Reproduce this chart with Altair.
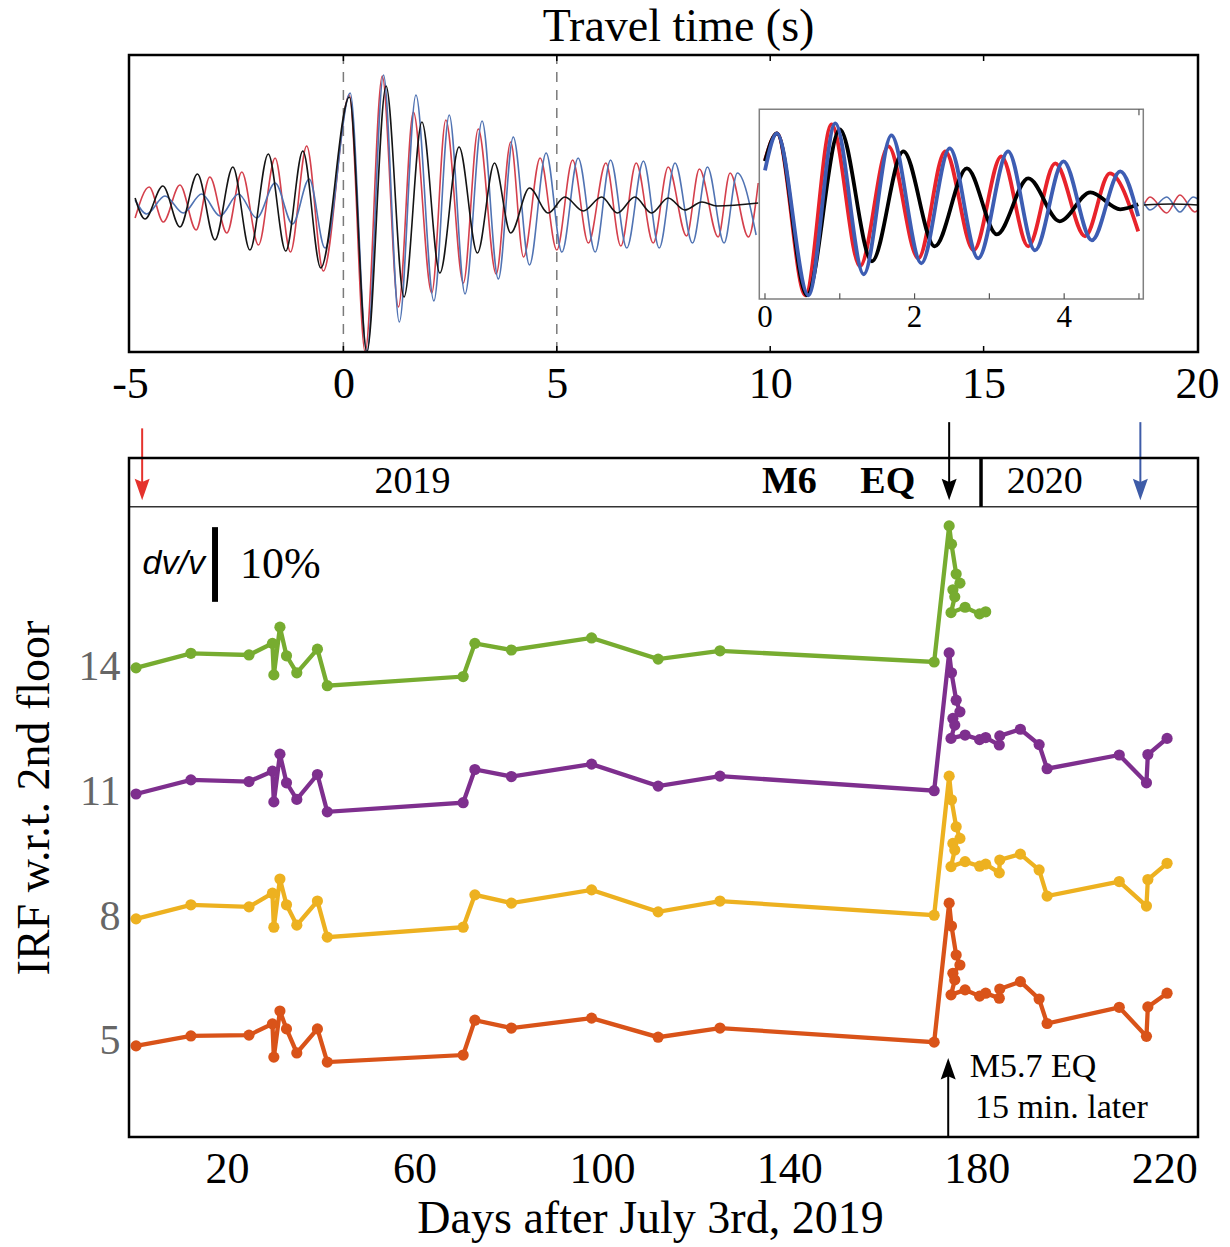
import altair as alt
import pandas as pd

SERIF = "Liberation Serif"
SANS = "Liberation Sans"

# ---------------- waveforms: extrema of each trace (time s, rel. amplitude) ----------------
RED_T = [-4.88, -4.55, -4.22, -3.83, -3.45, -3.13, -2.73, -2.38, -1.99, -1.60,
         -1.24, -0.86, -0.47, 0.14, 0.51, 0.91, 1.29, 1.64, 2.07, 2.40,
         2.81, 3.16, 3.58, 3.92, 4.22, 4.61, 5.00, 5.37, 5.74, 6.15,
         6.50, 6.86, 7.26, 7.61, 8.04, 8.34, 8.78, 9.06, 9.49, 9.72]
RED_A = [-0.13, 0.18, -0.17, 0.20, -0.25, 0.28, -0.28, 0.33, -0.40, 0.47,
         -0.47, 0.59, -0.66, 1.10, -1.65, 1.29, -1.02, 0.93, -0.88, 0.85,
         -0.78, 0.76, -0.69, 0.63, -0.52, 0.47, -0.45, 0.45, -0.38, 0.42,
         -0.41, 0.42, -0.38, 0.38, -0.31, 0.36, -0.32, 0.32, -0.32, 0.22]
BLUE_T = [-4.88, -4.61, -4.18, -3.75, -3.32, -2.89, -2.46, -2.03, -1.60, -1.19,
          -0.80, -0.43, 0.16, 0.55, 0.94, 1.31, 1.70, 2.12, 2.48, 2.85,
          3.25, 3.63, 3.98, 4.36, 4.75, 5.12, 5.50, 5.90, 6.26, 6.64,
          7.03, 7.40, 7.77, 8.18, 8.53, 8.92, 9.23, 9.67]
BLUE_A = [0.05, -0.09, 0.09, -0.08, 0.11, -0.11, 0.11, -0.13, 0.22, -0.19,
          0.26, -0.43, 1.12, -1.65, 1.30, -1.17, 1.10, -0.96, 0.90, -0.89,
          0.84, -0.74, 0.68, -0.60, 0.52, -0.47, 0.47, -0.47, 0.45, -0.43,
          0.44, -0.43, 0.42, -0.38, 0.38, -0.38, 0.32, -0.30]
BLACK_T = [-4.88, -4.65, -4.23, -3.83, -3.42, -3.01, -2.59, -2.19, -1.76, -1.35,
           -0.95, -0.53, 0.14, 0.55, 1.00, 1.42, 1.84, 2.26, 2.71, 3.14,
           3.54, 3.92, 4.36, 4.80, 5.19, 5.62, 6.05, 6.42, 6.83, 7.22,
           7.61, 8.00, 8.40, 8.75, 9.72]
BLACK_A = [0.07, -0.14, 0.19, -0.22, 0.31, -0.35, 0.38, -0.45, 0.51, -0.46,
           0.54, -0.63, 1.08, -1.67, 1.19, -0.92, 0.83, -0.68, 0.58, -0.48,
           0.42, -0.28, 0.17, -0.08, 0.08, -0.06, 0.08, -0.08, 0.08, -0.08,
           0.07, -0.05, 0.03, -0.01, 0.02]
# tails to the right of the inset
RED_TAIL_T = [18.75, 18.90, 19.29, 19.60, 19.95, 20.02]
RED_TAIL_A = [0.00, 0.08, -0.08, 0.10, -0.07, -0.05]
BLUE_TAIL_T = [18.75, 18.90, 19.29, 19.60, 19.91, 20.02]
BLUE_TAIL_A = [0.03, -0.05, 0.08, -0.07, 0.08, 0.06]
BLACK_TAIL_T = [18.75, 19.40, 20.02]
BLACK_TAIL_A = [0.00, 0.01, 0.00]

# inset: first 5 s, zoomed
IN_RED_T = [0.0, 0.16, 0.54, 0.89, 1.27, 1.65, 2.05, 2.41, 2.79, 3.16, 3.52, 3.88, 4.28, 4.61, 4.99]
IN_RED_A = [0.43, 0.70, -0.92, 0.79, -0.63, 0.57, -0.55, 0.52, -0.47, 0.47, -0.43, 0.40, -0.33, 0.30, -0.28]
IN_BLUE_T = [0.0, 0.16, 0.58, 0.94, 1.32, 1.69, 2.09, 2.47, 2.85, 3.25, 3.61, 3.99, 4.37, 4.75, 4.99]
IN_BLUE_A = [0.33, 0.70, -0.92, 0.80, -0.71, 0.68, -0.60, 0.55, -0.55, 0.52, -0.47, 0.42, -0.37, 0.32, -0.13]
IN_BLACK_T = [0.0, 0.16, 0.56, 1.00, 1.43, 1.85, 2.27, 2.70, 3.10, 3.52, 3.94, 4.35, 4.75, 4.99]
IN_BLACK_A = [0.42, 0.70, -0.92, 0.74, -0.58, 0.52, -0.43, 0.35, -0.31, 0.25, -0.18, 0.11, -0.06, -0.01]

# ---------------- dv/v time series (days after July 3rd, 2019) ----------------
DAYS = [0.6, 12.3, 24.7, 29.7, 30.0, 31.3, 32.7, 34.9, 39.3, 41.4,
        70.4, 72.9, 80.7, 97.8, 112.0, 125.2, 170.9, 174.1, 174.6, 175.6,
        176.4, 174.9, 175.3, 174.5, 177.5, 180.6, 181.9, 184.8, 184.9, 189.3,
        193.3, 195.0, 210.4, 216.2, 216.5, 220.6]
GREEN = [13.98, 14.33, 14.29, 14.57, 13.81, 14.96, 14.27, 13.86, 14.43, 13.55,
         13.77, 14.57, 14.41, 14.70, 14.19, 14.39, 14.12, 17.40, 16.96, 16.24,
         16.02, 15.86, 15.69, 15.31, 15.44, 15.28, 15.33]
PURPLE = [10.94, 11.28, 11.24, 11.49, 10.75, 11.90, 11.21, 10.81, 11.41, 10.51,
          10.73, 11.53, 11.36, 11.66, 11.13, 11.37, 11.02, 14.34, 13.86, 13.20,
          12.92, 12.76, 12.60, 12.28, 12.36, 12.25, 12.30, 12.12, 12.34, 12.50,
          12.13, 11.55, 11.88, 11.21, 11.89, 12.28]
YELLOW = [7.93, 8.27, 8.22, 8.55, 7.73, 8.89, 8.27, 7.78, 8.36, 7.49,
          7.73, 8.51, 8.31, 8.63, 8.10, 8.36, 8.02, 11.37, 10.80, 10.15,
          9.87, 9.75, 9.59, 9.19, 9.31, 9.20, 9.25, 9.04, 9.35, 9.49,
          9.11, 8.48, 8.83, 8.24, 8.88, 9.27]
ORANGE = [4.87, 5.11, 5.13, 5.40, 4.60, 5.71, 5.28, 4.70, 5.28, 4.48,
          4.65, 5.49, 5.30, 5.54, 5.08, 5.30, 4.96, 8.31, 7.76, 7.06,
          6.82, 6.62, 6.46, 6.10, 6.22, 6.07, 6.14, 6.02, 6.24, 6.42,
          6.00, 5.41, 5.80, 5.10, 5.81, 6.14]
SERIES = ["green", "purple", "yellow", "orange"]
SERIES_COLORS = ["#77AC30", "#7E2F8E", "#EDB120", "#D95319"]
Y_TICKS = [5, 8, 11, 14]
X_TICKS = [20, 60, 100, 140, 180, 220]
TOP_TICKS = [-5, 0, 5, 10, 15, 20]

# ---------------- scales ----------------
W = 1069
H = 1082
TOP_XS = alt.Scale(domain=[-5.023, 20.023], range=[0, W])
TOP_YS = alt.Scale(domain=[-1.47, 1.50], range=[297, 0], clamp=True)
IN_XS = alt.Scale(domain=[-0.076, 5.058], range=[630.3, 1014.3])
IN_YS = alt.Scale(domain=[-0.957, 0.94], range=[244, 54.3])
BOT_XS = alt.Scale(domain=[-0.907, 227.2], range=[0, W])
BOT_YS = alt.Scale(domain=[2.675, 19.036], range=[H, 403])

TOP_XAX = alt.Axis(orient="bottom", offset=-785, values=TOP_TICKS, labelFlush=False,
                   labelOverlap=False, domain=False, ticks=False, tickSize=0, grid=False,
                   labelPadding=10, labelFontSize=44, labelFont=SERIF, labelColor="black",
                   labelExpr="'' + datum.value", title=None)
BOT_XAX = alt.Axis(orient="bottom", values=X_TICKS, labelFlush=False, labelOverlap=False,
                   domain=False, ticks=False, tickSize=0, grid=False, labelPadding=10,
                   labelFontSize=44, labelFont=SERIF, labelColor="black",
                   title="Days after July 3rd, 2019", titleFont=SERIF, titleFontSize=46,
                   titleFontWeight="normal", titleColor="black", titlePadding=5, titleX=521)
BOT_YAX = alt.Axis(orient="left", values=Y_TICKS, labelOverlap=False, domain=False, ticks=False,
                   tickSize=0, grid=False, labelPadding=9, labelFontSize=42, labelFont=SERIF,
                   labelColor="#666666", title="IRF w.r.t. 2nd floor", titleFont=SERIF,
                   titleFontSize=46, titleFontWeight="normal", titleColor="black", titlePadding=20)


def tx(f):
    return alt.X(f, scale=TOP_XS, axis=TOP_XAX)


def ty(f):
    return alt.Y(f, scale=TOP_YS, axis=None)


def ix(f):
    return alt.X(f, scale=IN_XS, axis=None)


def iy(f):
    return alt.Y(f, scale=IN_YS, axis=None)


def bx(f):
    return alt.X(f, scale=BOT_XS, axis=BOT_XAX)


def by(f):
    return alt.Y(f, scale=BOT_YS, axis=BOT_YAX)


def trace_df(ts, amps, tail_t=None, tail_a=None):
    rows = [{"t": t, "a": a, "seg": 0} for t, a in zip(ts, amps)]
    if tail_t:
        rows += [{"t": t, "a": a, "seg": 1} for t, a in zip(tail_t, tail_a)]
    return pd.DataFrame(rows)


# ---------------- top panel ----------------
top_frame = alt.Chart(pd.DataFrame({"x0": [-5.023], "x1": [20.023], "y0": [-1.47], "y1": [1.50]})).mark_rect(
    fillOpacity=0, stroke="black", strokeWidth=2.5).encode(
    x=tx("x0:Q"), x2="x1:Q", y=ty("y0:Q"), y2="y1:Q")

dashes = alt.Chart(pd.DataFrame({"t": [0, 5], "y0": [-1.47, -1.47], "y1": [1.50, 1.50]})).mark_rule(
    color="#7a7a7a", strokeWidth=1.5, strokeDash=[10, 8]).encode(x=tx("t:Q"), y=ty("y0:Q"), y2="y1:Q")

tick_rows = []
for t in TOP_TICKS[1:-1]:
    tick_rows.append({"t": t, "y0": -1.47, "y1": -1.41})
    tick_rows.append({"t": t, "y0": 1.50, "y1": 1.44})
top_ticks = alt.Chart(pd.DataFrame(tick_rows)).mark_rule(color="black", strokeWidth=1.5).encode(
    x=tx("t:Q"), y=ty("y0:Q"), y2="y1:Q")


def main_trace(df, color):
    return alt.Chart(df).mark_line(interpolate="monotone", strokeWidth=1.6, color=color).encode(
        x=tx("t:Q"), y=ty("a:Q"), detail="seg:N")


top_group = alt.layer(
    dashes,
    main_trace(trace_df(RED_T, RED_A, RED_TAIL_T, RED_TAIL_A), "#d4404c"),
    main_trace(trace_df(BLUE_T, BLUE_A, BLUE_TAIL_T, BLUE_TAIL_A), "#5073b3"),
    main_trace(trace_df(BLACK_T, BLACK_A, BLACK_TAIL_T, BLACK_TAIL_A), "#141414"),
    top_ticks,
    top_frame,
)

# ---------------- inset ----------------
inset_box = alt.Chart(pd.DataFrame({"x0": [-0.076], "x1": [5.058], "y0": [-0.957], "y1": [0.94]})).mark_rect(
    fill="white", stroke="#808080", strokeWidth=1.5).encode(
    x=ix("x0:Q"), x2="x1:Q", y=iy("y0:Q"), y2="y1:Q")

in_tick_rows = [{"t": t, "y0": -0.957, "y1": -0.90} for t in range(0, 6)]
in_tick_rows.append({"t": 5, "y0": 0.94, "y1": 0.88})
inset_ticks = alt.Chart(pd.DataFrame(in_tick_rows)).mark_rule(color="#555555", strokeWidth=1.2).encode(
    x=ix("t:Q"), y=iy("y0:Q"), y2="y1:Q")

inset_labels = alt.Chart(pd.DataFrame({"t": [0, 2, 4], "y": [-1.15] * 3, "lab": ["0", "2", "4"]})).mark_text(
    font=SERIF, fontSize=31, color="black", baseline="middle").encode(x=ix("t:Q"), y=iy("y:Q"), text="lab:N")


def inset_trace(ts, amps, color):
    return alt.Chart(trace_df(ts, amps)).mark_line(interpolate="monotone", strokeWidth=3.8, color=color).encode(
        x=ix("t:Q"), y=iy("a:Q"))


inset_group = alt.layer(
    inset_box,
    inset_trace(IN_RED_T, IN_RED_A, "#e8232b"),
    inset_trace(IN_BLACK_T, IN_BLACK_A, "#000000"),
    inset_trace(IN_BLUE_T, IN_BLUE_A, "#3d5db3"),
    inset_ticks,
    inset_labels,
)

# ---------------- bottom panel ----------------
bot_frame = alt.Chart(pd.DataFrame({"x0": [-0.907], "x1": [227.2], "y0": [2.675], "y1": [19.036]})).mark_rect(
    fillOpacity=0, stroke="black", strokeWidth=2.5).encode(
    x=bx("x0:Q"), x2="x1:Q", y=by("y0:Q"), y2="y1:Q")

band_line = alt.Chart(pd.DataFrame({"x0": [-0.907], "x1": [227.2], "y": [17.86]})).mark_rule(
    color="#333333", strokeWidth=1.5).encode(x=bx("x0:Q"), x2="x1:Q", y=by("y:Q"))

year_split = alt.Chart(pd.DataFrame({"d": [180.9], "y0": [17.86], "y1": [19.036]})).mark_rule(
    color="black", strokeWidth=3.5).encode(x=bx("d:Q"), y=by("y0:Q"), y2="y1:Q")

year_text = alt.Chart(pd.DataFrame({"d": [59.6, 194.5], "y": [18.45, 18.45], "lab": ["2019", "2020"]})).mark_text(
    font=SERIF, fontSize=38, color="black", baseline="middle").encode(x=bx("d:Q"), y=by("y:Q"), text="lab:N")

eq_text = alt.Chart(pd.DataFrame({"d": [140.0, 161.0], "y": [18.45, 18.45], "lab": ["M6", "EQ"]})).mark_text(
    font=SERIF, fontSize=38, fontWeight="bold", color="black", baseline="middle").encode(
    x=bx("d:Q"), y=by("y:Q"), text="lab:N")

# arrows marking the first record, the M6 earthquake and the last record
arrow_df = pd.DataFrame({
    "d": [1.9, 174.1, 214.9],
    "y0": [19.75, 19.9, 19.9],
    "y1": [18.4, 18.4, 18.4],
    "tip": [18.02, 18.02, 18.02],
    "col": ["#e5322d", "#000000", "#3e5ca8"],
})
arrow_shafts = alt.Chart(arrow_df).mark_rule(strokeWidth=2).encode(
    x=bx("d:Q"), y=by("y0:Q"), y2="y1:Q", color=alt.Color("col:N", scale=None))
arrow_heads = alt.Chart(arrow_df).mark_point(
    shape="M0,0L-0.7,-2L0,-1.7L0.7,-2Z", size=460, filled=True, opacity=1).encode(
    x=bx("d:Q"), y=by("tip:Q"), color=alt.Color("col:N", scale=None))

aft_df = pd.DataFrame({"d": [173.9], "y0": [2.675], "y1": [4.3], "tip": [4.58]})
aft_shaft = alt.Chart(aft_df).mark_rule(strokeWidth=2, color="black").encode(
    x=bx("d:Q"), y=by("y0:Q"), y2="y1:Q")
aft_head = alt.Chart(aft_df).mark_point(
    shape="M0,0L-0.7,2L0,1.7L0.7,2Z", size=460, filled=True, opacity=1, color="black").encode(
    x=bx("d:Q"), y=by("tip:Q"))
aft_text = alt.Chart(pd.DataFrame({"d": [178.5, 179.6], "y": [4.36, 3.37],
                                   "lab": ["M5.7 EQ", "15 min. later"]})).mark_text(
    font=SERIF, fontSize=34, color="black", align="left", baseline="middle").encode(
    x=bx("d:Q"), y=by("y:Q"), text="lab:N")

dvv_label = alt.Chart(pd.DataFrame({"d": [15.3], "y": [16.47], "lab": ["dv/v"]})).mark_text(
    font=SANS, fontSize=34, fontStyle="italic", color="black", align="right", baseline="middle").encode(
    x=bx("d:Q"), y=by("y:Q"), text="lab:N")
dvv_bar = alt.Chart(pd.DataFrame({"d": [17.45], "y0": [15.57], "y1": [17.37]})).mark_rule(
    color="black", strokeWidth=6).encode(x=bx("d:Q"), y=by("y0:Q"), y2="y1:Q")
dvv_pct = alt.Chart(pd.DataFrame({"d": [22.8], "y": [16.46], "lab": ["10%"]})).mark_text(
    font=SERIF, fontSize=44, color="black", align="left", baseline="middle").encode(
    x=bx("d:Q"), y=by("y:Q"), text="lab:N")

series_rows = []
for name, vals in zip(SERIES, [GREEN, PURPLE, YELLOW, ORANGE]):
    for i, v in enumerate(vals):
        series_rows.append({"day": DAYS[i], "v": v, "idx": i, "series": name})
series_df = pd.DataFrame(series_rows)
s_color = alt.Color("series:N", scale=alt.Scale(domain=SERIES, range=SERIES_COLORS), legend=None)
series_lines = alt.Chart(series_df).mark_line(strokeWidth=4.3).encode(
    x=bx("day:Q"), y=by("v:Q"), color=s_color, order="idx:Q")
series_pts = alt.Chart(series_df).mark_circle(size=125, opacity=1).encode(
    x=bx("day:Q"), y=by("v:Q"), color=s_color)

bot_group = alt.layer(
    band_line, year_split, year_text, eq_text,
    series_lines, series_pts,
    arrow_shafts, arrow_heads,
    aft_shaft, aft_head, aft_text,
    dvv_label, dvv_bar, dvv_pct,
    bot_frame,
)

chart = alt.layer(top_group, inset_group, bot_group).resolve_scale(
    x="independent", y="independent"
).properties(
    width=W,
    height=H,
    autosize=alt.AutoSizeParams(type="none"),
    padding={"left": 129, "top": 55, "right": 32, "bottom": 110},
    title=alt.TitleParams("Travel time (s)", font=SERIF, fontSize=46, fontWeight="normal",
                          color="black", offset=3, dx=15, anchor="middle"),
).configure_view(stroke=None)

chart.save("out.html", embed_options={"renderer": "svg", "actions": False})
